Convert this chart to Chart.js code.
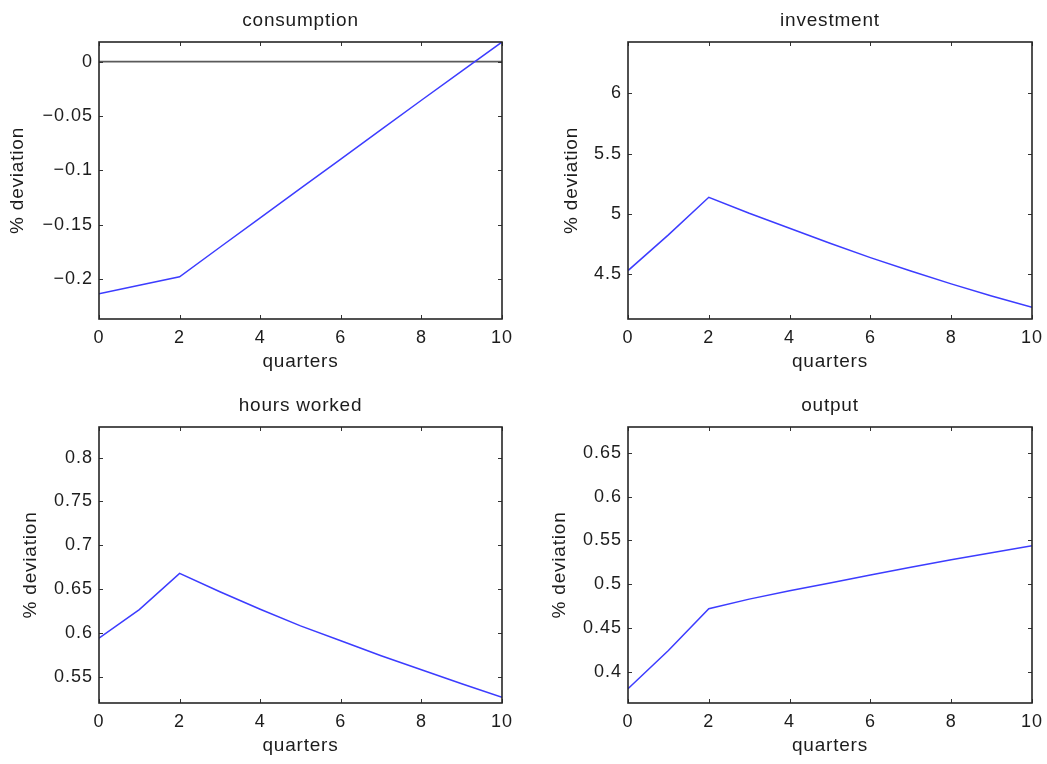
<!DOCTYPE html>
<html>
<head>
<meta charset="utf-8">
<script src="https://cdn.jsdelivr.net/npm/chart.js@4/dist/chart.umd.min.js"></script>
<style>
  html, body { margin: 0; padding: 0; background: #fff; }
  #wrap { position: relative; width: 1047px; height: 764px; overflow: hidden; }
  #wrap canvas { position: absolute; left: 0; top: 0; }
</style>
</head>
<body>
<div id="wrap">
  <canvas id="c1" width="1047" height="764"></canvas>
  <canvas id="c2" width="1047" height="764"></canvas>
  <canvas id="c3" width="1047" height="764"></canvas>
  <canvas id="c4" width="1047" height="764"></canvas>
</div>
<script>
// ---- data ----
const quarters    = [0, 1, 2, 3, 4, 5, 6, 7, 8, 9, 10];
const consumption = [-0.2132, -0.2054, -0.1976, -0.1705, -0.1435, -0.1165, -0.0895, -0.0625, -0.0355, -0.0088, 0.0180];
const zeroLine    = [0, 0, 0, 0, 0, 0, 0, 0, 0, 0, 0];
const investment  = [4.530, 4.826, 5.138, 5.005, 4.881, 4.757, 4.638, 4.527, 4.420, 4.320, 4.226];
const hoursWorked = [0.594, 0.6266, 0.668, 0.647, 0.627, 0.608, 0.591, 0.574, 0.558, 0.542, 0.5265];
const output      = [0.3806, 0.4243, 0.472, 0.483, 0.4925, 0.5015, 0.5105, 0.5195, 0.528, 0.536, 0.544];

const panelTitles = ['consumption', 'investment', 'hours worked', 'output'];
const xLabel = 'quarters';
const yLabel = '% deviation';
const xTickStep = 2;
const yTickSteps = [0.05, 0.5, 0.05, 0.05];
const yLimits = [[-0.2364, 0.0180], [4.129, 6.425], [0.520, 0.835], [0.3643, 0.6797]];

// ---- layout ----
const W = 1047, H = 764;
const panels = [
  { left: 99,  right: 502,  top: 42,  bottom: 319, ylabX: 18  },
  { left: 628, right: 1032, top: 42,  bottom: 319, ylabX: 572 },
  { left: 99,  right: 502,  top: 427, bottom: 703, ylabX: 31  },
  { left: 628, right: 1032, top: 427, bottom: 703, ylabX: 560 }
];

const FONT = "'Liberation Sans', Arial, Helvetica, sans-serif";
const TXT = '#1c1c1c';
Chart.defaults.font.family = FONT;
Chart.defaults.font.size = 18;
Chart.defaults.color = TXT;

const framePlugin = {
  id: 'frame',
  beforeLayout(chart) {
    try { chart.ctx.letterSpacing = '1px'; } catch (e) {}
  },
  beforeDraw(chart) {
    try { chart.ctx.letterSpacing = '1px'; } catch (e) {}
  },
  afterDatasetsDraw(chart, args, opts) {
    const ctx = chart.ctx;
    const a = chart.chartArea;
    const xs = chart.scales.x, ys = chart.scales.y;
    ctx.save();
    // inward tick marks on all four sides
    ctx.strokeStyle = '#333';
    ctx.lineWidth = 1;
    const tl = 4;
    ctx.beginPath();
    ys.ticks.forEach(t => {
      const y = Math.round(ys.getPixelForValue(t.value)) + 0.5;
      ctx.moveTo(a.left, y); ctx.lineTo(a.left + tl, y);
      ctx.moveTo(a.right, y); ctx.lineTo(a.right - tl, y);
    });
    xs.ticks.forEach(t => {
      const x = Math.round(xs.getPixelForValue(t.value)) + 0.5;
      ctx.moveTo(x, a.bottom); ctx.lineTo(x, a.bottom - tl);
      ctx.moveTo(x, a.top); ctx.lineTo(x, a.top + tl);
    });
    ctx.stroke();
    // box
    ctx.strokeStyle = '#262626';
    ctx.lineWidth = 1.6;
    ctx.strokeRect(a.left, a.top, a.right - a.left, a.bottom - a.top);
    ctx.restore();
  },
  afterDraw(chart, args, opts) {
    const ctx = chart.ctx;
    const a = chart.chartArea;
    ctx.save();
    ctx.fillStyle = TXT;
    ctx.font = '19px ' + FONT;
    try { ctx.letterSpacing = '0.8px'; } catch (e) {}
    ctx.textAlign = 'center';
    ctx.textBaseline = 'middle';
    const cx = (a.left + a.right) / 2;
    ctx.fillText(opts.title, cx, a.top - 21);
    ctx.fillText(opts.xlabel, cx, a.bottom + 43);
    ctx.translate(opts.ylabX, (a.top + a.bottom) / 2);
    ctx.rotate(-Math.PI / 2);
    ctx.fillText(opts.ylabel, 0, 0);
    ctx.restore();
  }
};

function fmt(v) {
  const s = String(Math.round(v * 10000) / 10000);
  return s.replace('-', '\u2212');
}

function makeChart(id, idx, series, extra) {
  const p = panels[idx];
  const datasets = [{
    data: quarters.map((q, i) => ({ x: q, y: series[i] })),
    borderColor: '#3c3cff',
    borderWidth: 1.5,
    pointRadius: 0,
    tension: 0,
    fill: false
  }];
  if (extra) {
    datasets.push({
      data: quarters.map((q, i) => ({ x: q, y: extra[i] })),
      borderColor: '#5a5a5a',
      borderWidth: 1.6,
      pointRadius: 0,
      tension: 0,
      fill: false
    });
  }
  return new Chart(document.getElementById(id), {
    type: 'line',
    data: { datasets },
    plugins: [framePlugin],
    options: {
      responsive: false,
      devicePixelRatio: 1,
      animation: false,
      events: [],
      layout: { padding: { left: 0, top: p.top, right: W - p.right, bottom: 0 } },
      plugins: {
        legend: { display: false },
        tooltip: { enabled: false },
        title: { display: false },
        frame: { title: panelTitles[idx], xlabel: xLabel, ylabel: yLabel, ylabX: p.ylabX }
      },
      scales: {
        x: {
          type: 'linear',
          min: quarters[0],
          max: quarters[quarters.length - 1],
          grid: { display: false, drawTicks: false },
          border: { display: false },
          ticks: { stepSize: xTickStep, padding: 8, maxRotation: 0, includeBounds: false, color: TXT,
                    callback: v => fmt(v) },
          afterFit: s => { s.height = H - p.bottom; s.paddingLeft = 0; s.paddingRight = 0; }
        },
        y: {
          type: 'linear',
          min: yLimits[idx][0],
          max: yLimits[idx][1],
          grid: { display: false, drawTicks: false },
          border: { display: false },
          ticks: { stepSize: yTickSteps[idx], padding: 6, includeBounds: false, color: TXT,
                   callback: v => fmt(v) },
          afterFit: s => { s.width = p.left; s.paddingTop = 0; s.paddingBottom = 0; }
        }
      }
    }
  });
}

makeChart('c1', 0, consumption, zeroLine);
makeChart('c2', 1, investment);
makeChart('c3', 2, hoursWorked);
makeChart('c4', 3, output);
</script>
</body>
</html>
